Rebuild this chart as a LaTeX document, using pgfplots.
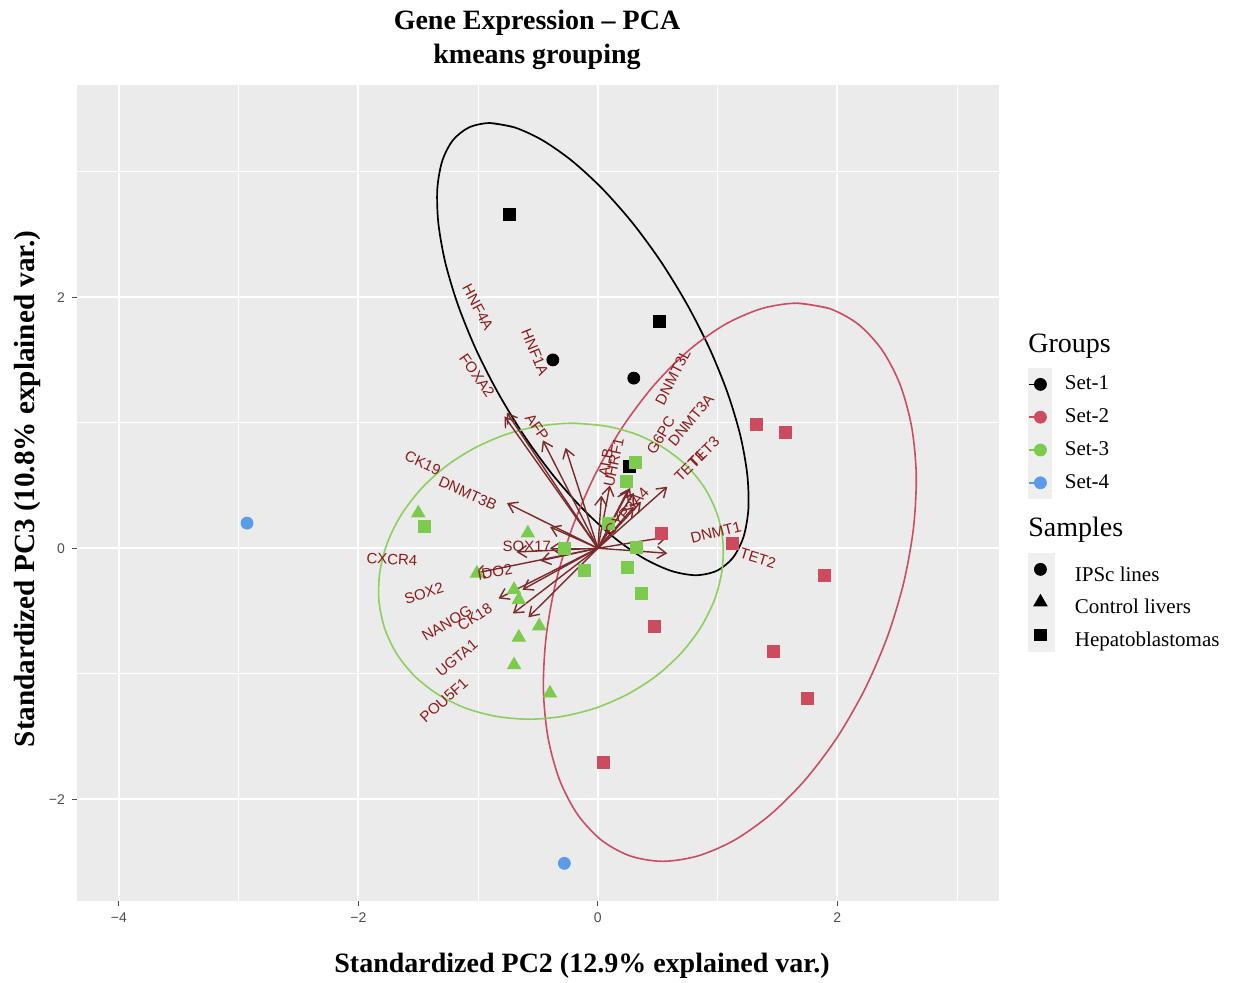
\documentclass[border=0pt]{standalone}
\usepackage{fontspec}
\setmainfont{Liberation Serif}
\newfontfamily\sansf{Liberation Sans}
\usepackage{pgfplots}
\pgfplotsset{compat=1.18}
\usetikzlibrary{arrows.meta}

\definecolor{ggbg}{HTML}{EBEBEB}
\definecolor{setone}{HTML}{000000}
\definecolor{settwo}{HTML}{CD4B5F}
\definecolor{setthree}{HTML}{7DCB4E}
\definecolor{setfour}{HTML}{5B9BE8}
\definecolor{ellred}{HTML}{C94D63}
\definecolor{ellgreen}{HTML}{8CCF5E}
\definecolor{arrowc}{HTML}{7A2A2A}
\definecolor{labc}{HTML}{8B1A1A}
\definecolor{tickc}{HTML}{4D4D4D}
\definecolor{keybg}{HTML}{EFEFEF}

\newcommand{\arr}[2]{\addplot[forget plot, arrowc, line width=0.7pt, -{Straight Barb[length=4.5pt,width=6pt]}] coordinates {(0,0) (#1,#2)};}
\newcommand{\lab}[4]{\addplot[forget plot, only marks, mark=none, nodes near coords={#4},
  nodes near coords style={rotate=#3, anchor=center, inner sep=0pt, font=\sansf\fontsize{7.5}{8}\selectfont, text=labc}] coordinates {(#1,#2)};}

\begin{document}
\begin{tikzpicture}
\useasboundingbox (-38.5pt,-41pt) rectangle (579pt,450.5pt);
\begin{axis}[
  scale only axis, width=461pt, height=408pt,
  xmin=-4.35, xmax=3.35, ymin=-2.81, ymax=3.69,
  axis background/.style={fill=ggbg},
  axis line style={draw=none},
  xtick={-4,-2,0,2}, xticklabels={−4,−2,0,2},
  ytick={-2,0,2}, yticklabels={−2,0,2},
  minor xtick={-3,-1,1,3}, minor ytick={-1,1,3},
  grid=both,
  major grid style={white, line width=1pt},
  minor grid style={white, line width=0.5pt},
  tick align=outside, tick pos=left,
  major tick length=2.5pt, minor tick length=0pt,
  tick style={tickc, line width=0.5pt},
  ticklabel style={font=\sansf\fontsize{7}{8}\selectfont, text=tickc},
  legend cell align=left,
  legend style={at={(1.0315,0.6532)}, anchor=north west, draw=none, fill=none,
    inner sep=0pt, outer sep=0pt, row sep=0pt, column sep=6.5pt,
    font=\fontsize{10.5}{12}\selectfont, nodes={inner sep=0pt, outer sep=0pt}},
]
% points
\addplot[forget plot, only marks, mark=*, mark size=3pt, color=setone] coordinates {(-0.376,1.50) (0.30,1.355)};
\addplot[forget plot, only marks, mark=square*, mark size=3pt, color=setone] coordinates {(-0.735,2.66) (0.51,1.81) (0.26,0.65)};
\addplot[forget plot, only marks, mark=square*, mark size=3pt, color=settwo] coordinates {(1.32,0.99) (1.57,0.92) (0.53,0.12) (1.12,0.04) (1.89,-0.22) (0.47,-0.62) (1.47,-0.82) (1.75,-1.195) (0.05,-1.705)};
\addplot[forget plot, only marks, mark=triangle*, mark size=3.8pt, color=setthree] coordinates {(-1.50,0.28) (-0.585,0.12) (-1.01,-0.20) (-0.70,-0.33) (-0.66,-0.41) (-0.49,-0.62) (-0.66,-0.71) (-0.70,-0.93) (-0.40,-1.155)};
\addplot[forget plot, only marks, mark=square*, mark size=3pt, color=setthree] coordinates {(-1.445,0.17) (-0.276,0.0) (0.09,0.20) (0.325,0.01) (0.24,0.53) (0.315,0.68) (-0.11,-0.175) (0.25,-0.15) (0.36,-0.36)};
\addplot[forget plot, only marks, mark=*, mark size=3pt, color=setfour] coordinates {(-2.93,0.20) (-0.28,-2.51)};
% ellipses
\addplot[forget plot, setone, line width=0.85pt, smooth] coordinates {
(-0.902,3.387) (-0.695,3.352) (-0.463,3.250) (-0.214,3.084) (0.041,2.860) (0.293,2.587) (0.532,2.275) (0.748,1.937)
(0.935,1.586) (1.084,1.235) (1.190,0.897) (1.248,0.585) (1.257,0.312) (1.216,0.089) (1.126,-0.078) (0.992,-0.180)
(0.818,-0.215) (0.611,-0.180) (0.379,-0.078) (0.130,0.089) (-0.125,0.312) (-0.377,0.585) (-0.616,0.897) (-0.832,1.235)
(-1.019,1.586) (-1.168,1.937) (-1.274,2.275) (-1.332,2.587) (-1.341,2.860) (-1.300,3.084) (-1.211,3.250) (-1.076,3.352)
(-0.902,3.387) (-0.695,3.352)};
\addplot[forget plot, ellred, line width=0.8pt, smooth] coordinates {
(1.662,1.952) (1.935,1.909) (2.176,1.783) (2.375,1.577) (2.525,1.301) (2.621,0.964) (2.659,0.580) (2.636,0.163)
(2.555,-0.271) (2.418,-0.705) (2.230,-1.122) (1.999,-1.506) (1.733,-1.843) (1.444,-2.119) (1.141,-2.325) (0.836,-2.451)
(0.542,-2.494) (0.269,-2.451) (0.029,-2.325) (-0.171,-2.119) (-0.321,-1.843) (-0.417,-1.506) (-0.455,-1.122) (-0.432,-0.705)
(-0.351,-0.271) (-0.214,0.163) (-0.026,0.580) (0.205,0.964) (0.471,1.301) (0.760,1.577) (1.063,1.783) (1.368,1.909)
(1.662,1.952) (1.935,1.909)};
\addplot[forget plot, ellgreen, line width=0.8pt, smooth] coordinates {
(-0.208,0.996) (0.067,0.973) (0.325,0.906) (0.554,0.797) (0.748,0.651) (0.897,0.472) (0.998,0.268) (1.045,0.047)
(1.036,-0.183) (0.973,-0.413) (0.857,-0.634) (0.693,-0.838) (0.488,-1.017) (0.248,-1.163) (-0.016,-1.272) (-0.294,-1.339)
(-0.576,-1.362) (-0.851,-1.339) (-1.109,-1.272) (-1.338,-1.163) (-1.532,-1.017) (-1.682,-0.838) (-1.782,-0.634) (-1.829,-0.413)
(-1.820,-0.183) (-1.757,0.047) (-1.641,0.268) (-1.477,0.472) (-1.272,0.651) (-1.032,0.797) (-0.769,0.906) (-0.490,0.973)
(-0.208,0.996) (0.067,0.973)};
% arrows
\arr{-0.76}{1.08}
\arr{-0.78}{1.05}
\arr{-0.46}{0.86}
\arr{-0.27}{0.80}
\arr{0.03}{0.42}
\arr{0.10}{0.50}
\arr{0.27}{0.48}
\arr{0.30}{0.44}
\arr{0.25}{0.46}
\arr{0.58}{0.49}
\arr{0.36}{0.37}
\arr{0.30}{0.33}
\arr{0.58}{0.09}
\arr{0.58}{-0.04}
\arr{-0.76}{0.36}
\arr{-0.40}{0.17}
\arr{-0.40}{0.00}
\arr{-0.68}{-0.03}
\arr{-0.48}{-0.10}
\arr{-1.03}{-0.20}
\arr{-0.83}{-0.40}
\arr{-0.63}{-0.33}
\arr{-0.71}{-0.52}
\arr{-0.58}{-0.55}
% labels
\lab{-1.002}{1.920}{-62}{HNF4A}
\lab{-0.526}{1.562}{-68}{HNF1A}
\lab{-1.010}{1.378}{-55}{FOXA2}
\lab{-0.509}{0.964}{-55}{AFP}
\lab{0.626}{1.363}{63}{DNMT3L}
\lab{0.777}{1.020}{50}{DNMT3A}
\lab{0.526}{0.900}{59}{G6PC}
\lab{0.768}{0.653}{45}{TET1}
\lab{0.885}{0.765}{45}{TET3}
\lab{0.067}{0.685}{80}{ALB}
\lab{0.134}{0.685}{78}{UHRF1}
\lab{0.242}{0.295}{48}{CYP3A4}
\lab{0.985}{0.127}{14}{DNMT1}
\lab{1.336}{-0.080}{-17}{TET2}
\lab{-1.461}{0.677}{-25}{CK19}
\lab{-1.086}{0.438}{-24}{DNMT3B}
\lab{-1.720}{-0.088}{-3}{CXCR4}
\lab{-0.593}{0.016}{0}{SOX17}
\lab{-0.860}{-0.190}{10}{IDO2}
\lab{-1.453}{-0.359}{17}{SOX2}
\lab{-1.261}{-0.598}{31}{NANOG}
\lab{-1.027}{-0.550}{33}{CK18}
\lab{-1.178}{-0.876}{40}{UGTA1}
\lab{-1.286}{-1.211}{42}{POU5F1}
% legend: Groups
\addlegendimage{legend image code/.code={\fill[keybg] (0pt,-8pt) rectangle (11.5pt,8pt); \draw[setone, line width=0.8pt] (0.5pt,0pt) -- (6pt,0pt); \fill[setone] (6pt,0pt) circle (3pt);}}
\addlegendentry{Set-1}
\addlegendimage{legend image code/.code={\fill[keybg] (0pt,-8pt) rectangle (11.5pt,8pt); \draw[settwo, line width=0.8pt] (0.5pt,0pt) -- (6pt,0pt); \fill[settwo] (6pt,0pt) circle (3pt);}}
\addlegendentry{Set-2}
\addlegendimage{legend image code/.code={\fill[keybg] (0pt,-8pt) rectangle (11.5pt,8pt); \draw[setthree, line width=0.8pt] (0.5pt,0pt) -- (6pt,0pt); \fill[setthree] (6pt,0pt) circle (3pt);}}
\addlegendentry{Set-3}
\addlegendimage{legend image code/.code={\fill[keybg] (0pt,-8pt) rectangle (11.5pt,8pt); \draw[setfour, line width=0.8pt] (0.5pt,0pt) -- (6pt,0pt); \fill[setfour] (6pt,0pt) circle (3pt);}}
\addlegendentry{Set-4}
\end{axis}

\begin{axis}[
  scale only axis, width=461pt, height=408pt, hide axis,
  xmin=0, xmax=1, ymin=0, ymax=1,
  legend cell align=left,
  legend style={at={(1.0315,0.4265)}, anchor=north west, draw=none, fill=none,
    inner sep=0pt, outer sep=0pt, row sep=0pt, column sep=10pt,
    font=\fontsize{10.5}{12}\selectfont, nodes={inner sep=0pt, outer sep=0pt}},
]
\addlegendimage{legend image code/.code={\fill[keybg] (0pt,-5pt) rectangle (13pt,11pt); \fill[black] (6pt,3pt) circle (3pt);}}
\addlegendentry{IPSc lines}
\addlegendimage{legend image code/.code={\fill[keybg] (0pt,-5pt) rectangle (13pt,11pt); \fill[black] (6pt,6.8pt) -- (2.7pt,1.1pt) -- (9.3pt,1.1pt) -- cycle;}}
\addlegendentry{Control livers}
\addlegendimage{legend image code/.code={\fill[keybg] (0pt,-5pt) rectangle (13pt,11pt); \fill[black] (3.2pt,0.2pt) rectangle (8.8pt,5.8pt);}}
\addlegendentry{Hepatoblastomas}
\end{axis}

\node[anchor=base, font=\bfseries\fontsize{14}{16}\selectfont] at (230pt,435.5pt) {Gene Expression – PCA};
\node[anchor=base, font=\bfseries\fontsize{14}{16}\selectfont] at (230pt,418.5pt) {kmeans grouping};
\node[anchor=base, font=\bfseries\fontsize{14}{16}\selectfont] at (252.5pt,-36pt) {Standardized PC2 (12.9\% explained var.)};
\node[anchor=base, rotate=90, font=\bfseries\fontsize{14.6}{16}\selectfont] at (-21pt,206pt) {Standardized PC3 (10.8\% explained var.)};
\node[anchor=base west, inner sep=0pt, font=\fontsize{14}{16}\selectfont] at (475.5pt,274pt) {Groups};
\node[anchor=base west, inner sep=0pt, font=\fontsize{14}{16}\selectfont] at (475.5pt,182pt) {Samples};
\end{tikzpicture}
\end{document}
